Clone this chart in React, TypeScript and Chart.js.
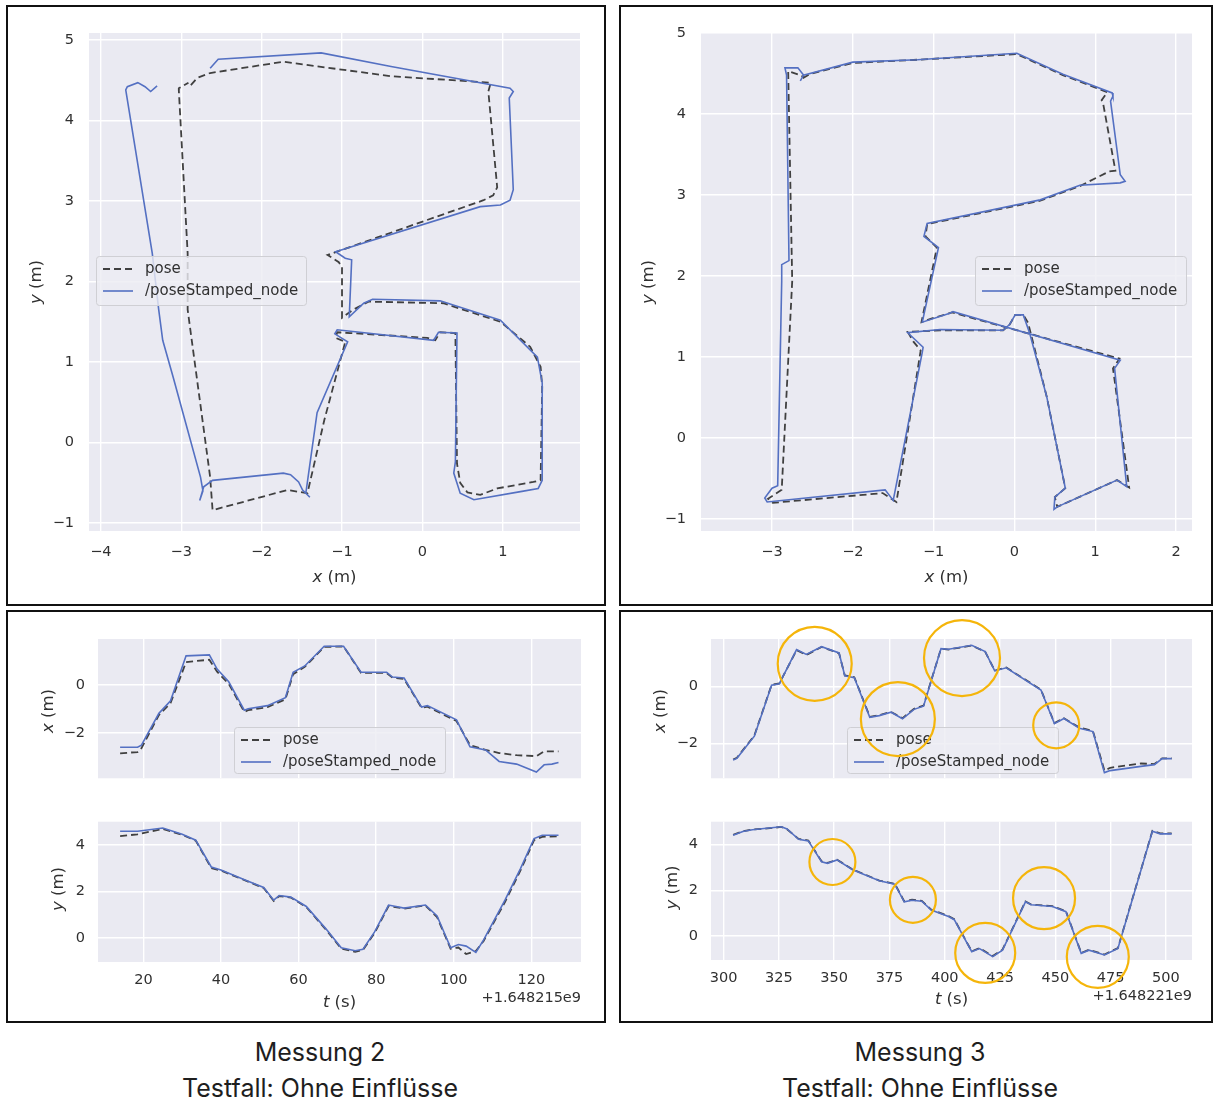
import React, { useEffect, useRef } from 'react';
import { Chart, registerables } from 'chart.js';

Chart.register(...registerables);

// ---------------- data: Messung 2, trajectory (x/y in m) ----------------
const m2PoseX = [-2.88, -2.80, -2.64, -1.73, -0.39, 0.85, 0.82, 0.93, 0.88, 0.76, -1.18, -1.04, -1.00, -1.00, -0.86, -0.67, 0.26, 0.97, 1.34, 1.47, 1.49, 1.47, 1.38, 0.93, 0.72, 0.56, 0.47, 0.43, 0.41, 0.22, 0.16, 0.06, -0.90, -1.06, -1.08, -0.96, -1.22, -1.43, -1.68, -2.61, -2.64, -2.92, -2.92, -3.03, -3.03, -2.91];
const m2PoseY = [4.44, 4.53, 4.59, 4.73, 4.55, 4.47, 4.36, 3.17, 3.07, 3.01, 2.33, 2.24, 2.18, 1.55, 1.65, 1.75, 1.73, 1.50, 1.19, 0.94, 0.69, -0.47, -0.49, -0.57, -0.65, -0.62, -0.50, -0.26, 1.36, 1.37, 1.27, 1.30, 1.36, 1.37, 1.30, 1.25, 0.28, -0.63, -0.59, -0.84, -0.43, 1.65, 2.35, 4.38, 4.40, 4.47];
const m2StampX = [-2.64, -2.54, -1.26, -0.39, 1.09, 1.13, 1.08, 1.13, 1.09, 0.97, 0.72, -1.08, -0.96, -0.88, -0.91, -0.73, -0.62, 0.22, 0.97, 1.43, 1.49, 1.49, 1.44, 1.22, 0.64, 0.47, 0.39, 0.41, 0.43, 0.20, 0.14, -1.06, -1.09, -0.93, -1.31, -1.45, -1.40, -1.49, -1.54, -1.64, -1.73, -2.61, -2.72, -2.77, -2.73, -2.76, -3.10, -3.23, -3.28, -3.36, -3.69, -3.67, -3.54, -3.45, -3.38, -3.30];
const m2StampY = [4.65, 4.76, 4.84, 4.67, 4.40, 4.36, 4.28, 3.14, 3.01, 2.95, 2.93, 2.37, 2.29, 2.27, 1.56, 1.73, 1.78, 1.76, 1.52, 1.06, 0.74, -0.47, -0.57, -0.61, -0.71, -0.63, -0.38, -0.24, 1.36, 1.37, 1.27, 1.40, 1.35, 1.25, 0.37, -0.63, -0.68, -0.59, -0.49, -0.40, -0.38, -0.47, -0.55, -0.72, -0.60, -0.43, 0.81, 1.27, 1.65, 2.35, 4.38, 4.42, 4.47, 4.42, 4.36, 4.43];

// ---------------- data: Messung 3, trajectory ----------------
const m3PoseX = [-2.62, -2.54, -2.00, -1.20, 0.03, 0.60, 1.15, 1.08, 1.10, 1.25, 1.17, 0.81, 0.32, -1.08, -1.10, -0.96, -1.15, -1.01, -0.77, 1.30, 1.22, 1.42, 1.27, 0.53, 0.50, 0.63, 0.40, 0.17, 0.11, 0.01, -0.06, -0.14, -0.92, -1.32, -1.25, -1.16, -1.46, -1.63, -2.99, -3.05, -2.88, -2.75, -2.80, -2.65, -2.60];
const m3PoseY = [4.44, 4.49, 4.63, 4.67, 4.74, 4.48, 4.27, 4.17, 4.12, 3.30, 3.29, 3.11, 2.93, 2.64, 2.49, 2.35, 1.43, 1.48, 1.55, 0.98, 0.86, -0.61, -0.52, -0.85, -0.73, -0.62, 0.51, 1.42, 1.52, 1.52, 1.40, 1.33, 1.33, 1.31, 1.19, 1.08, -0.79, -0.68, -0.80, -0.75, -0.64, 1.94, 4.53, 4.48, 4.45];
const m3StampX = [-2.65, -2.61, -2.00, -1.20, 0.03, 0.60, 1.21, 1.22, 1.19, 1.31, 1.37, 1.31, 0.81, 0.32, -1.08, -1.12, -0.94, -1.14, -0.80, -0.76, 1.31, 1.24, 1.39, 1.27, 0.53, 0.49, 0.50, 0.63, 0.40, 0.19, 0.11, 0.01, -0.06, -0.14, -0.92, -1.32, -1.13, -1.14, -1.50, -1.60, -3.06, -3.09, -3.00, -2.93, -2.88, -2.88, -2.79, -2.82, -2.84, -2.68, -2.61, -2.65];
const m3StampY = [4.41, 4.48, 4.64, 4.67, 4.75, 4.49, 4.26, 4.22, 4.16, 3.25, 3.17, 3.15, 3.12, 2.94, 2.65, 2.49, 2.35, 1.43, 1.54, 1.56, 0.96, 0.86, -0.60, -0.52, -0.85, -0.88, -0.73, -0.62, 0.51, 1.29, 1.52, 1.52, 1.40, 1.33, 1.34, 1.30, 1.12, 1.06, -0.77, -0.64, -0.79, -0.74, -0.62, -0.59, 1.94, 2.14, 2.19, 4.48, 4.57, 4.57, 4.48, 4.41];

// ---------------- data: Messung 2, time series (t in s, offset below) ----------------
const m2OffsetText = '+1.648215e9';
const m2TimeX = [14, 18.5, 19.5, 24, 27, 31, 37, 39, 42, 46, 47, 52, 56.6, 58.6, 61.6, 66.6, 71.6, 76.1, 82.7, 84.2, 87.2, 91.7, 93.2, 100.7, 104.2, 108.2, 111.7, 116.2, 121.3, 123.3, 125.3, 127];
const m2PoseXt = [-2.84, -2.79, -2.63, -1.25, -0.75, 0.95, 1.05, 0.55, 0.05, -1.12, -1.05, -0.92, -0.60, 0.45, 0.75, 1.58, 1.60, 0.50, 0.50, 0.30, 0.25, -0.95, -0.90, -1.50, -2.50, -2.70, -2.83, -2.92, -2.96, -2.76, -2.76, -2.76];
const m2StampXt = [-2.59, -2.59, -2.50, -1.18, -0.66, 1.21, 1.25, 0.66, 0.13, -1.05, -0.99, -0.86, -0.53, 0.53, 0.79, 1.61, 1.61, 0.53, 0.53, 0.33, 0.29, -0.92, -0.86, -1.45, -2.57, -2.70, -3.18, -3.29, -3.62, -3.32, -3.29, -3.22];
const m2TimeY = [14, 18.5, 25, 30, 33.5, 37.5, 40, 47, 51, 53.6, 55, 58, 62, 67, 71, 74.6, 76.6, 79.6, 83.2, 87.2, 92.7, 95.7, 99.2, 101.2, 103.2, 105.7, 107.7, 113.2, 117.2, 120.7, 122.8, 127];
const m2PoseYt = [4.37, 4.45, 4.68, 4.43, 4.18, 3.00, 2.90, 2.42, 2.15, 1.60, 1.80, 1.74, 1.33, 0.38, -0.45, -0.58, -0.50, 0.22, 1.38, 1.27, 1.40, 0.90, -0.45, -0.40, -0.68, -0.55, -0.12, 1.55, 2.90, 4.20, 4.34, 4.37];
const m2StampYt = [4.58, 4.58, 4.72, 4.45, 4.20, 3.05, 2.92, 2.44, 2.17, 1.63, 1.83, 1.76, 1.36, 0.41, -0.41, -0.54, -0.47, 0.27, 1.42, 1.29, 1.42, 0.95, -0.41, -0.27, -0.34, -0.61, -0.07, 1.63, 2.98, 4.27, 4.41, 4.41];

// ---------------- data: Messung 3, time series ----------------
const m3OffsetText = '+1.648221e9';
const m3TimeX = [304.3, 306, 313.9, 321.7, 325.2, 333, 337.4, 344.3, 352.2, 354.8, 359.1, 366.1, 370.4, 375.7, 380.9, 386.1, 390.4, 398.3, 401.7, 412.2, 418.3, 422.6, 427.8, 443.5, 449.6, 453.9, 460.9, 467, 472.2, 474.8, 488.7, 494.8, 498.3, 502.6];
const m3PoseXt = [-2.56, -2.50, -1.72, 0.06, 0.11, 1.28, 1.11, 1.39, 1.17, 0.39, 0.33, -1.06, -1.00, -0.89, -1.11, -0.78, -0.67, 1.33, 1.30, 1.44, 1.22, 0.56, 0.67, -0.11, -1.28, -1.11, -1.44, -1.56, -2.95, -2.85, -2.70, -2.72, -2.52, -2.52];
const m3StampXt = [-2.58, -2.52, -1.74, 0.05, 0.10, 1.30, 1.13, 1.40, 1.18, 0.38, 0.31, -1.08, -1.02, -0.90, -1.13, -0.80, -0.69, 1.33, 1.31, 1.45, 1.23, 0.55, 0.66, -0.12, -1.30, -1.12, -1.46, -1.58, -3.02, -2.95, -2.80, -2.74, -2.53, -2.53];
const m3TimeY = [304.3, 308.7, 313, 318.3, 326.1, 328.7, 333.9, 338.3, 344.3, 347, 351.3, 358.3, 370.4, 377.4, 381.7, 385.2, 389.6, 393.9, 401.7, 404.3, 412.2, 415.7, 421.7, 426.1, 436.5, 439.1, 448.7, 454.8, 461.7, 465.2, 472.2, 478.3, 493.9, 497.4, 502.6];
const m3PoseYt = [4.43, 4.58, 4.66, 4.69, 4.77, 4.67, 4.25, 4.18, 3.27, 3.20, 3.34, 2.92, 2.43, 2.29, 1.52, 1.59, 1.54, 1.16, 0.88, 0.74, -0.66, -0.52, -0.87, -0.59, 1.52, 1.38, 1.31, 1.09, -0.73, -0.59, -0.80, -0.52, 4.60, 4.49, 4.49];
const m3StampYt = [4.41, 4.57, 4.65, 4.70, 4.78, 4.68, 4.23, 4.16, 3.25, 3.18, 3.33, 2.90, 2.42, 2.27, 1.50, 1.57, 1.53, 1.14, 0.86, 0.72, -0.68, -0.54, -0.89, -0.61, 1.50, 1.37, 1.30, 1.07, -0.75, -0.61, -0.82, -0.54, 4.58, 4.47, 4.47];

// highlighted regions (yellow circles) in Messung 3, centres in data units
const m3CircleXT = [341.2, 378.8, 407.8, 450.4];
const m3CircleXV = [0.80, -1.14, 1.00, -1.36];
const m3CircleYT = [349.2, 385.6, 418.3, 444.9, 469.2];
const m3CircleYV = [3.24, 1.59, -0.73, 1.66, -0.90];

// labels
const seriesNames = ['pose', '/poseStamped_node'];
const captionTitles = ['Messung 2', 'Messung 3'];
const captionSub = 'Testfall: Ohne Einflüsse';

// ---------------- styles ----------------
const FONT = "'DejaVu Sans', Verdana, sans-serif";
const TEXT = '#303030';
const BLUE = '#5470c2';
const DARK = '#404040';
const PANEL_BG = '#EAEAF2';
const CIRCLE_COLOR = '#F5B50A';
const DASH = [7, 4];
const TICK_SIZE = 14.5;
const LEGEND_SIZE = 15;
const LABEL_SIZE = 16.5;
const CIRCLE_R_UPPER = [37, 37, 38, 23];
const CIRCLE_R_LOWER = [23, 23, 30, 31, 31];

const fmt = (v: any) => {
  const n = Math.round(Number(v) * 1000) / 1000;
  return String(n).replace('-', '\u2212');
};

const pts = (xs: number[], ys: number[]) => xs.map((x, i) => ({ x, y: ys[i] }));

function drawMathLabel(ctx: any, v: string, rest: string, cx: number, cy: number, rotate: boolean) {
  ctx.save();
  ctx.translate(cx, cy);
  if (rotate) ctx.rotate(-Math.PI / 2);
  const fi = `italic ${LABEL_SIZE}px ${FONT}`;
  const fr = `${LABEL_SIZE}px ${FONT}`;
  ctx.font = fi;
  const w1 = ctx.measureText(v).width;
  ctx.font = fr;
  const w2 = ctx.measureText(rest).width;
  const x0 = -(w1 + w2) / 2;
  ctx.textBaseline = 'middle';
  ctx.textAlign = 'left';
  ctx.fillStyle = TEXT;
  ctx.font = fi;
  ctx.fillText(v, x0, 0);
  ctx.font = fr;
  ctx.fillText(rest, x0 + w1, 0);
  ctx.restore();
}

function drawLegend(ctx: any, x: number, y: number, w: number, h: number) {
  ctx.save();
  ctx.beginPath();
  ctx.roundRect(x + 0.5, y + 0.5, w, h, 3);
  ctx.fillStyle = 'rgba(236,236,243,0.8)';
  ctx.fill();
  ctx.lineWidth = 1;
  ctx.strokeStyle = '#cfcfd4';
  ctx.stroke();
  [true, false].forEach((dashed, i) => {
    const yy = y + 13 + i * 22;
    ctx.beginPath();
    ctx.setLineDash(dashed ? DASH : []);
    ctx.strokeStyle = dashed ? DARK : BLUE;
    ctx.lineWidth = dashed ? 1.8 : 1.6;
    ctx.moveTo(x + 7, yy);
    ctx.lineTo(x + 37, yy);
    ctx.stroke();
    ctx.setLineDash([]);
    ctx.fillStyle = TEXT;
    ctx.font = `${LEGEND_SIZE}px ${FONT}`;
    ctx.textBaseline = 'middle';
    ctx.textAlign = 'left';
    ctx.fillText(seriesNames[i], x + 49, yy);
  });
  ctx.restore();
}

type Spec = {
  canvas: { x: number; y: number; w: number; h: number };
  area: { l: number; t: number; r: number; b: number };
  xMin: number; xMax: number; yMin: number; yMax: number;
  xStep: number; yStep: number;
  showXTicks: boolean; xPad: number; yPad: number;
  pose: { x: number[]; y: number[] };
  stamp: { x: number[]; y: number[] };
  xLabel?: [string, string]; xLabelY?: number;
  yLabel?: [string, string]; yLabelX?: number;
  legend?: { x: number; y: number; w: number; h: number };
  offsetText?: { text: string; right: number; y: number };
  circles?: { t: number[]; v: number[]; r: number[] };
};

function buildConfig(s: Spec): any {
  const c = s.canvas;
  const a = s.area;
  const padL = a.l - c.x;
  const padT = a.t - c.y;
  const padR = c.x + c.w - a.r;
  const padB = c.y + c.h - a.b;
  const tickFont = { family: FONT, size: TICK_SIZE };

  const bgPlugin = {
    id: 'panelBg',
    beforeDraw(chart: any) {
      const ca = chart.chartArea;
      const ctx = chart.ctx;
      ctx.save();
      ctx.fillStyle = PANEL_BG;
      ctx.fillRect(ca.left, ca.top, ca.right - ca.left, ca.bottom - ca.top);
      ctx.restore();
    },
  };

  const decoPlugin = {
    id: 'deco',
    afterDraw(chart: any) {
      const ctx = chart.ctx;
      const ox = c.x;
      const oy = c.y;
      if (s.xLabel && s.xLabelY !== undefined) {
        drawMathLabel(ctx, s.xLabel[0], s.xLabel[1], (a.l + a.r) / 2 - ox, s.xLabelY - oy, false);
      }
      if (s.yLabel && s.yLabelX !== undefined) {
        drawMathLabel(ctx, s.yLabel[0], s.yLabel[1], s.yLabelX - ox, (a.t + a.b) / 2 - oy, true);
      }
      if (s.legend) {
        drawLegend(ctx, s.legend.x - ox, s.legend.y - oy, s.legend.w, s.legend.h);
      }
      if (s.offsetText) {
        ctx.save();
        ctx.font = `${TICK_SIZE}px ${FONT}`;
        ctx.fillStyle = TEXT;
        ctx.textAlign = 'right';
        ctx.textBaseline = 'middle';
        ctx.fillText(s.offsetText.text, s.offsetText.right - ox, s.offsetText.y - oy);
        ctx.restore();
      }
      if (s.circles) {
        const xs = chart.scales.x;
        const ys = chart.scales.y;
        ctx.save();
        ctx.strokeStyle = CIRCLE_COLOR;
        ctx.lineWidth = 2.2;
        s.circles.t.forEach((t, i) => {
          const px = xs.getPixelForValue(t);
          const py = ys.getPixelForValue(s.circles!.v[i]);
          const r = s.circles!.r[i];
          ctx.beginPath();
          ctx.ellipse(px, py, r, r, 0, 0, Math.PI * 2);
          ctx.stroke();
        });
        ctx.restore();
      }
    },
  };

  return {
    type: 'scatter',
    data: {
      datasets: [
        {
          label: seriesNames[1],
          data: pts(s.stamp.x, s.stamp.y),
          showLine: true,
          borderColor: BLUE,
          backgroundColor: BLUE,
          borderWidth: 1.6,
          pointRadius: 0,
          tension: 0,
          order: 0,
        },
        {
          label: seriesNames[0],
          data: pts(s.pose.x, s.pose.y),
          showLine: true,
          borderColor: DARK,
          backgroundColor: DARK,
          borderWidth: 1.8,
          borderDash: DASH,
          pointRadius: 0,
          tension: 0,
          order: 1,
        },
      ],
    },
    options: {
      animation: false,
      responsive: false,
      maintainAspectRatio: false,
      devicePixelRatio: 1,
      events: [],
      layout: { padding: { left: 0, top: padT, right: padR, bottom: 0 } },
      plugins: { legend: { display: false }, tooltip: { enabled: false }, title: { display: false } },
      scales: {
        x: {
          type: 'linear',
          position: 'bottom',
          min: s.xMin,
          max: s.xMax,
          afterFit: (sc: any) => { sc.height = padB; },
          grid: { color: '#ffffff', lineWidth: 1.4, drawTicks: false },
          border: { display: false },
          ticks: {
            display: s.showXTicks,
            stepSize: s.xStep,
            includeBounds: false,
            autoSkip: false,
            maxRotation: 0,
            padding: s.xPad,
            color: TEXT,
            font: tickFont,
            callback: fmt,
          },
        },
        y: {
          type: 'linear',
          position: 'left',
          min: s.yMin,
          max: s.yMax,
          afterFit: (sc: any) => { sc.width = padL; },
          grid: { color: '#ffffff', lineWidth: 1.4, drawTicks: false },
          border: { display: false },
          ticks: {
            stepSize: s.yStep,
            includeBounds: false,
            autoSkip: false,
            padding: s.yPad,
            color: TEXT,
            font: tickFont,
            callback: fmt,
          },
        },
      },
    },
    plugins: [bgPlugin, decoPlugin],
  };
}

function Plot({ spec }: { spec: Spec }) {
  const ref = useRef<HTMLCanvasElement>(null);
  useEffect(() => {
    const chart = new Chart(ref.current as HTMLCanvasElement, buildConfig(spec));
    return () => chart.destroy();
  }, []);
  const c = spec.canvas;
  return (
    <canvas
      ref={ref}
      width={c.w}
      height={c.h}
      style={{ position: 'absolute', left: c.x, top: c.y, width: c.w, height: c.h }}
    />
  );
}

const specs: Spec[] = [
  {
    canvas: { x: 8, y: 7, w: 596, h: 597 },
    area: { l: 89, t: 33, r: 580, b: 531 },
    xMin: -4.147, xMax: 1.96, yMin: -1.099, yMax: 5.087, xStep: 1, yStep: 1,
    showXTicks: true, xPad: 13, yPad: 15,
    pose: { x: m2PoseX, y: m2PoseY },
    stamp: { x: m2StampX, y: m2StampY },
    xLabel: ['x', ' (m)'], xLabelY: 578,
    yLabel: ['y', ' (m)'], yLabelX: 37,
    legend: { x: 96, y: 256, w: 210, h: 49 },
  },
  {
    canvas: { x: 621, y: 7, w: 590, h: 597 },
    area: { l: 701, t: 33, r: 1192, b: 531 },
    xMin: -3.879, xMax: 2.198, yMin: -1.148, yMax: 5.0, xStep: 1, yStep: 1,
    showXTicks: true, xPad: 13, yPad: 15,
    pose: { x: m3PoseX, y: m3PoseY },
    stamp: { x: m3StampX, y: m3StampY },
    xLabel: ['x', ' (m)'], xLabelY: 578,
    yLabel: ['y', ' (m)'], yLabelX: 649,
    legend: { x: 975, y: 256, w: 211, h: 49 },
  },
  {
    canvas: { x: 8, y: 612, w: 596, h: 188 },
    area: { l: 98, t: 639, r: 581, b: 783 },
    xMin: 8.3, xMax: 132.8, yMin: -3.88, yMax: 1.91, xStep: 20, yStep: 2,
    showXTicks: false, xPad: 10, yPad: 13,
    pose: { x: m2TimeX, y: m2PoseXt },
    stamp: { x: m2TimeX, y: m2StampXt },
    yLabel: ['x', ' (m)'], yLabelX: 49,
    legend: { x: 234, y: 727, w: 211, h: 46 },
  },
  {
    canvas: { x: 8, y: 800, w: 596, h: 221 },
    area: { l: 98, t: 816, r: 581, b: 962 },
    xMin: 8.3, xMax: 132.8, yMin: -1.02, yMax: 4.99, xStep: 20, yStep: 2,
    showXTicks: true, xPad: 10, yPad: 13,
    pose: { x: m2TimeY, y: m2PoseYt },
    stamp: { x: m2TimeY, y: m2StampYt },
    xLabel: ['t', ' (s)'], xLabelY: 1003,
    yLabel: ['y', ' (m)'], yLabelX: 59,
    offsetText: { text: m2OffsetText, right: 581, y: 998 },
  },
  {
    canvas: { x: 621, y: 612, w: 590, h: 188 },
    area: { l: 711, t: 639, r: 1192, b: 783 },
    xMin: 294.3, xMax: 511.8, yMin: -3.22, yMax: 1.67, xStep: 25, yStep: 2,
    showXTicks: false, xPad: 10, yPad: 13,
    pose: { x: m3TimeX, y: m3PoseXt },
    stamp: { x: m3TimeX, y: m3StampXt },
    yLabel: ['x', ' (m)'], yLabelX: 661,
    legend: { x: 847, y: 727, w: 211, h: 46 },
    circles: { t: m3CircleXT, v: m3CircleXV, r: CIRCLE_R_UPPER },
  },
  {
    canvas: { x: 621, y: 800, w: 590, h: 221 },
    area: { l: 711, t: 815, r: 1192, b: 960 },
    xMin: 294.3, xMax: 511.8, yMin: -1.04, yMax: 5.0, xStep: 25, yStep: 2,
    showXTicks: true, xPad: 10, yPad: 13,
    pose: { x: m3TimeY, y: m3PoseYt },
    stamp: { x: m3TimeY, y: m3StampYt },
    xLabel: ['t', ' (s)'], xLabelY: 1000,
    yLabel: ['y', ' (m)'], yLabelX: 673,
    offsetText: { text: m3OffsetText, right: 1192, y: 996 },
    circles: { t: m3CircleYT, v: m3CircleYV, r: CIRCLE_R_LOWER },
  },
];

const panels = [
  { left: 6, top: 5, w: 600, h: 601 },
  { left: 619, top: 5, w: 594, h: 601 },
  { left: 6, top: 610, w: 600, h: 413 },
  { left: 619, top: 610, w: 594, h: 413 },
];

const captionCenters = [320, 920];

export default function App() {
  return (
    <div style={{ position: 'absolute', left: 0, top: 0, width: 1214, height: 1102, background: '#ffffff', overflow: 'hidden' }}>
      {panels.map((p, i) => (
        <div
          key={'p' + i}
          style={{
            position: 'absolute', left: p.left, top: p.top, width: p.w, height: p.h,
            border: '2px solid #111', boxSizing: 'border-box',
          }}
        />
      ))}
      {specs.map((s, i) => (
        <Plot key={'c' + i} spec={s} />
      ))}
      {captionCenters.map((cx, i) => (
        <React.Fragment key={'cap' + i}>
          <div style={{ position: 'absolute', left: cx - 250, top: 1037, width: 500, textAlign: 'center', font: "25px Inter, 'Open Sans', sans-serif", lineHeight: '30px', color: '#1e1e1e' }}>
            {captionTitles[i]}
          </div>
          <div style={{ position: 'absolute', left: cx - 250, top: 1073, width: 500, textAlign: 'center', font: "25px Inter, 'Open Sans', sans-serif", lineHeight: '30px', color: '#1e1e1e' }}>
            {captionSub}
          </div>
        </React.Fragment>
      ))}
    </div>
  );
}
